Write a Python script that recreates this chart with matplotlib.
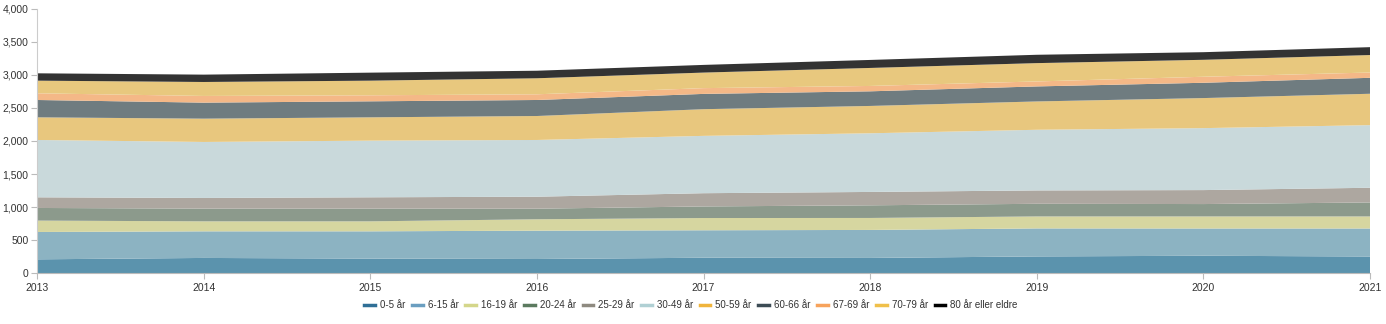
import matplotlib
matplotlib.use("Agg")
import matplotlib.pyplot as plt
from matplotlib.lines import Line2D
from matplotlib.ticker import FuncFormatter

plt.rcParams['font.family'] = ['Liberation Sans', 'DejaVu Sans']

years = [2013, 2014, 2015, 2016, 2017, 2018, 2019, 2020, 2021]
labels = ["0-5 år", "6-15 år", "16-19 år", "20-24 år", "25-29 år", "30-49 år",
          "50-59 år", "60-66 år", "67-69 år", "70-79 år", "80 år eller eldre"]

a0_5 = [211, 232, 222, 216, 235, 232, 255, 265, 254]
a6_15 = [413, 402, 412, 428, 415, 423, 423, 412, 423]
a16_19 = [172, 151, 151, 172, 185, 181, 181, 182, 182]
a20_24 = [191, 192, 192, 160, 175, 191, 191, 187, 211]
a25_29 = [161, 161, 171, 181, 200, 202, 202, 211, 222]
a30_49 = [866, 846, 856, 857, 866, 886, 916, 936, 946]
a50_59 = [342, 352, 352, 362, 403, 413, 428, 454, 474]
a60_66 = [262, 242, 242, 242, 231, 221, 227, 231, 241]
a67_69 = [101, 101, 91, 86, 87, 81, 75, 91, 80]
a70_79 = [191, 211, 221, 242, 235, 272, 277, 256, 264]
a80 = [111, 111, 121, 114, 116, 121, 126, 115, 119]

series = [a0_5, a6_15, a16_19, a20_24, a25_29, a30_49, a50_59, a60_66, a67_69, a70_79, a80]

fill_colors = ["#5b93ad", "#8cb3c2", "#d6d6a0", "#8c9a8c", "#ada7a0", "#c9d9db",
               "#e8c77e", "#6f7c80", "#f4b887", "#e8c87e", "#333333"]
legend_colors = ["#2f6f96", "#6a9ec0", "#d4d68a", "#5b7a5f", "#8e8a80", "#b0d0d4",
                 "#f0b43c", "#3d4c55", "#f7a35c", "#f0c04a", "#000000"]

fig = plt.figure(figsize=(13.86, 3.24), dpi=100)
ax = fig.add_axes([37 / 1386, (324 - 273.3) / 324, (1370 - 37) / 1386, 264.8 / 324])

ax.stackplot(years, *series, colors=fill_colors, linewidth=0)

ax.set_xlim(2013, 2021)
ax.set_ylim(0, 4000)
ax.set_xticks(years)
ax.set_yticks(range(0, 4001, 500))
ax.yaxis.set_major_formatter(FuncFormatter(lambda v, p: f"{int(v):,}"))

for s in ["top", "right"]:
    ax.spines[s].set_visible(False)
ax.spines["left"].set_color("#cccccc")
ax.spines["bottom"].set_color("#bbbbbb")
ax.tick_params(axis="both", labelsize=7.5, colors="#bbbbbb", labelcolor="#333333", length=4, width=0.8)
ax.tick_params(axis="x", pad=3)
ax.tick_params(axis="y", pad=2)

handles = [Line2D([0], [0], color=c, lw=2.5) for c in legend_colors]
fig.legend(handles, labels, loc="center", bbox_to_anchor=(691 / 1386, 1 - 305 / 324),
           ncol=11, frameon=False, fontsize=7, handlelength=1.1, handletextpad=0.5,
           columnspacing=0.7, labelcolor="#333333")

fig.savefig("out.png", dpi=100)
